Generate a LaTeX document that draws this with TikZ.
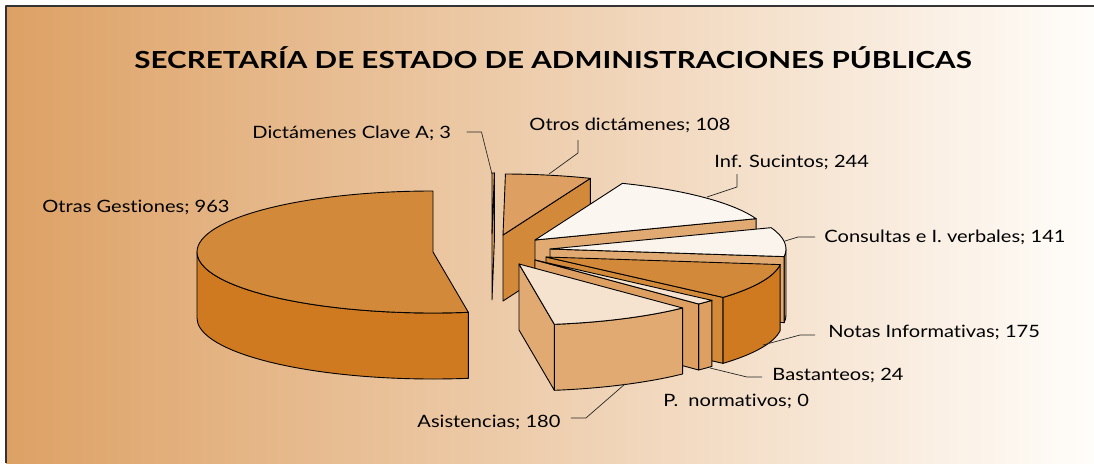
\documentclass[tikz,border=0pt]{standalone}
\usepackage{fontspec}
\setmainfont{Lato}
\newfontfamily\lblfont[FakeStretch=1.18,Ligatures=NoCommon]{Lato}
\newfontfamily\ttlfont[FakeStretch=1.26]{Lato}
\usepackage{tikz}
\usetikzlibrary{calc}

\definecolor{bgleft}{RGB}{221,161,101}
\definecolor{bgright}{RGB}{255,253,250}
\definecolor{ocretop}{RGB}{211,137,58}
\definecolor{ocreside}{RGB}{207,121,32}
\definecolor{tantop}{RGB}{222,160,98}
\definecolor{tanside}{RGB}{224,170,114}
\definecolor{creamtop}{RGB}{252,246,240}
\definecolor{peachtop}{RGB}{245,226,207}

% pie geometry (px)
\newcommand\pieRx{236}
\newcommand\pieRy{61}
\newcommand\pieDep{66}
% top face: centre, start, end, colour
\newcommand\pietop[4]{%
  \filldraw[fill=#4] (#1) -- ++({\pieRx*cos(#2)},{\pieRy*sin(#2)}) arc[start angle=#2, end angle=#3, x radius=\pieRx, y radius=\pieRy] -- cycle;}
% outer wall: centre, start, end, colour
\newcommand\piewall[4]{%
  \filldraw[fill=#4] (#1) ++({\pieRx*cos(#2)},{\pieRy*sin(#2)}) arc[start angle=#2, end angle=#3, x radius=\pieRx, y radius=\pieRy] -- ++(0,-\pieDep) arc[start angle=#3, end angle=#2, x radius=\pieRx, y radius=\pieRy] -- cycle;}
% cut face: centre, angle, colour
\newcommand\piecut[3]{%
  \filldraw[fill=#3] (#1) -- ++({\pieRx*cos(#2)},{\pieRy*sin(#2)}) -- ++(0,-\pieDep) -- ++({-\pieRx*cos(#2)},{-\pieRy*sin(#2)}) -- cycle;}

\begin{document}
\begin{tikzpicture}[x=1pt,y=1pt,line width=0.9pt,line join=round,
    lbl/.style={anchor=base west,inner sep=0pt,font=\lblfont\fontsize{17}{20}\selectfont},
    leader/.style={line width=0.7pt,black!85}]
    \useasboundingbox (0,0) rectangle (1094,-463);
    % background
    \shade[left color=bgleft,right color=bgright] (6,-6) rectangle (1094,-463);
    \draw[line width=1.3pt,black!80] (6,-463) -- (6,-6) -- (1094,-6);
    \node[anchor=base,inner sep=0pt,font=\ttlfont\fontsize{23.5}{28}\bfseries] (title) at (553,-68) {SECRETARÍA DE ESTADO DE ADMINISTRACIONES PÚBLICAS};

    % slice centres
    \coordinate (cOtras) at (433,-252);
    \coordinate (cClave) at (492,-234);
    \coordinate (cOtros) at (503,-235);
    \coordinate (cInf) at (535,-240);
    \coordinate (cCons) at (550,-249);
    \coordinate (cNotas) at (546,-257);
    \coordinate (cBast) at (535,-260);
    \coordinate (cAsis) at (519,-264);

    % Otras Gestiones
    \piewall{cOtras}{180}{278.62}{ocreside}
    \pietop{cOtras}{90}{278.62}{ocretop}
    % Dictamenes Clave A
    \piecut{cClave}{89.41}{tantop}
    \pietop{cClave}{89.41}{90}{tantop}
    % Otros dictamenes
    \piecut{cOtros}{68.26}{ocretop}
    \pietop{cOtros}{68.26}{89.41}{tantop}
    % Inf. Sucintos
    \piecut{cInf}{20.47}{tanside}
    \pietop{cInf}{20.47}{68.26}{creamtop}
    % Consultas
    \piewall{cCons}{-7.15}{0}{tanside}
    \piecut{cCons}{-7.15}{tanside}
    \pietop{cCons}{-7.15}{20.47}{creamtop!97!tanside}
    % Notas
    \piewall{cNotas}{-41.43}{-7.15}{ocreside}
    \piecut{cNotas}{-41.43}{ocretop}
    \pietop{cNotas}{-41.43}{-7.15}{ocretop}
    % Bastanteos
    \piewall{cBast}{-46.13}{-41.43}{tantop}
    \piecut{cBast}{-46.13}{tantop}
    \pietop{cBast}{-46.13}{-41.43}{peachtop}
    % Asistencias
    \piewall{cAsis}{-81.39}{-46.13}{tanside}
    \piecut{cAsis}{-81.39}{tanside}
    \pietop{cAsis}{-81.39}{-46.13}{peachtop}

    % leader ends on the slices
    \coordinate (pClave) at (492,-174);
    \coordinate (pOtros) at (549,-174);
    \coordinate (pInf) at (707,-197);
    \coordinate (pCons) at (785,-241);
    \coordinate (pNotas) at (763,-345);
    \coordinate (pBast) at (710,-368);
    \coordinate (pAsis) at (625,-384);

    % labels
    \node[lbl] (lOtras) at (42,-212) {Otras Gestiones; 963};
    \node[lbl] (lClave) at (252,-138) {Dictámenes Clave A; 3};
    \node[lbl] (lOtros) at (529,-130) {Otros dictámenes; 108};
    \node[lbl] (lInf) at (714,-167) {Inf. Sucintos; 244};
    \node[lbl] (lCons) at (824,-242) {Consultas e I. verbales; 141};
    \node[lbl] (lNotas) at (828,-337) {Notas Informativas; 175};
    \node[lbl] (lBast) at (772,-380) {Bastanteos; 24};
    \node[lbl] (lPnor) at (663,-406) {P.\ \ normativos; 0};
    \node[lbl] (lAsis) at (417,-427) {Asistencias; 180};

    \draw[leader] ([xshift=15pt,yshift=6pt]lClave.base east) -- ++(15,0) -- (pClave);
    \draw[leader] ([xshift=49pt,yshift=-10pt]lOtros.base west) -- ++(0,-13) -- (pOtros);
    \draw[leader] ([xshift=23pt,yshift=-7pt]lInf.base west) -- ++(0,-13) -- (pInf);
    \draw[leader] ([xshift=-9pt,yshift=5pt]lCons.base west) -- ++(-17,0) -- (pCons);
    \draw[leader] ([xshift=-13pt,yshift=2pt]lNotas.base west) -- ++(-15,0) -- (pNotas);
    \draw[leader] ([xshift=-10pt,yshift=3pt]lBast.base west) -- ++(-15,0) -- (pBast);
    \draw[leader] ([xshift=10pt,yshift=9pt]lAsis.base east) -- ++(15,0) -- (pAsis);
\end{tikzpicture}
\end{document}
